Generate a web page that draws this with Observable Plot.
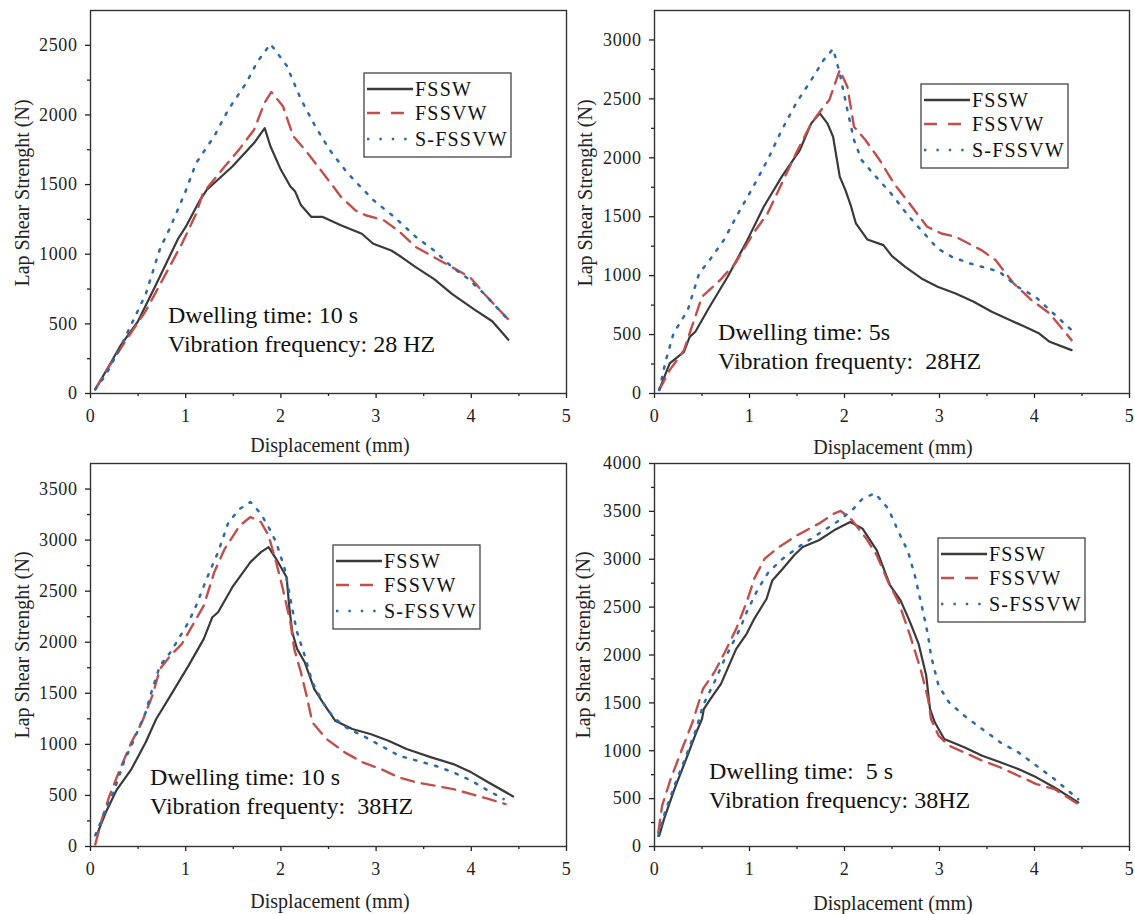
<!DOCTYPE html>
<html><head><meta charset="utf-8">
<script src="https://cdn.jsdelivr.net/npm/d3@7"></script>
<script src="https://cdn.jsdelivr.net/npm/@observablehq/plot@0.6"></script>
<style>
body{margin:0;background:#fff;}
#root{position:relative;width:1135px;height:914px;overflow:hidden;background:#fff;font-family:"Liberation Serif","Times New Roman",serif;}
.panel{position:absolute;}
.panel svg{overflow:visible;}
.panel svg text{letter-spacing:0.6px;}
#overlay{position:absolute;left:0;top:0;pointer-events:none;}
#overlay text{font-family:"Liberation Serif","Times New Roman",serif;}
</style></head><body><div id="root"></div>
<script>
// ---------- data ----------
const seriesNames = ["FSSW", "FSSVW", "S-FSSVW"];
const xTicks = [0, 1, 2, 3, 4, 5];
const xMinor = [0.5, 1.5, 2.5, 3.5, 4.5];
const yTicksA = [0, 500, 1000, 1500, 2000, 2500];
const yTicksB = [0, 500, 1000, 1500, 2000, 2500, 3000];
const yTicksC = [0, 500, 1000, 1500, 2000, 2500, 3000, 3500];
const yTicksD = [0, 500, 1000, 1500, 2000, 2500, 3000, 3500, 4000];
const xLabel = "Displacement (mm)";
const yLabel = "Lap Shear Strenght (N)";
const notesA = ["Dwelling time: 10 s", "Vibration frequency: 28 HZ"];
const notesB = ["Dwelling time: 5s", "Vibration frequenty:  28HZ"];
const notesC = ["Dwelling time: 10 s", "Vibration frequenty:  38HZ"];
const notesD = ["Dwelling time:  5 s", "Vibration frequency: 38HZ"];

// Panel A: 10 s, 28 Hz
const a_FSSW = [[0.05,30],[0.2,205],[0.31,338],[0.5,520],[0.69,785],[0.92,1111],[1.0,1196],[1.15,1389],[1.22,1461],[1.49,1630],[1.72,1800],[1.83,1905],[1.89,1775],[2.0,1606],[2.1,1486],[2.15,1450],[2.21,1353],[2.32,1268],[2.44,1268],[2.63,1208],[2.85,1147],[2.97,1075],[3.16,1027],[3.27,978],[3.42,906],[3.61,821],[3.8,713],[4.03,604],[4.22,519],[4.39,386]];
const a_FSSVW = [[0.05,30],[0.16,157],[0.39,400],[0.58,592],[0.77,833],[0.96,1075],[1.11,1292],[1.18,1437],[1.41,1630],[1.56,1751],[1.72,1896],[1.83,2090],[1.9,2165],[2.02,2065],[2.13,1848],[2.28,1727],[2.47,1558],[2.63,1413],[2.78,1316],[2.89,1280],[3.08,1244],[3.23,1171],[3.42,1051],[3.61,978],[3.8,906],[3.99,833],[4.14,713],[4.39,531]];
const a_SFSSVW = [[0.05,30],[0.16,133],[0.31,326],[0.58,713],[0.73,1039],[0.84,1196],[0.99,1437],[1.11,1655],[1.3,1848],[1.45,2041],[1.64,2234],[1.75,2379],[1.89,2510],[2.06,2355],[2.21,2113],[2.36,1920],[2.51,1751],[2.7,1582],[2.97,1389],[3.19,1268],[3.42,1123],[3.61,1027],[3.8,906],[3.95,833],[4.14,713],[4.37,543]];

// Panel B: 5 s, 28 Hz
const b_FSSW = [[0.05,30],[0.16,255],[0.31,354],[0.37,481],[0.43,524],[0.58,736],[0.77,991],[0.96,1274],[1.15,1585],[1.34,1840],[1.53,2066],[1.65,2292],[1.74,2377],[1.82,2292],[1.88,2179],[1.95,1840],[2.01,1726],[2.07,1585],[2.12,1443],[2.24,1307],[2.41,1259],[2.5,1166],[2.64,1075],[2.81,976],[2.98,906],[3.17,849],[3.36,778],[3.55,693],[3.74,623],[3.9,566],[4.05,509],[4.16,439],[4.39,368]];
const b_FSSVW = [[0.05,30],[0.16,198],[0.31,368],[0.5,821],[0.69,962],[0.85,1104],[1.04,1358],[1.19,1528],[1.34,1783],[1.49,2038],[1.65,2292],[1.74,2391],[1.84,2490],[1.95,2745],[2.03,2604],[2.1,2264],[2.22,2151],[2.37,1981],[2.52,1783],[2.71,1585],[2.87,1415],[3.02,1358],[3.17,1330],[3.44,1217],[3.59,1132],[3.78,934],[3.97,792],[4.16,679],[4.39,453]];
const b_SFSSVW = [[0.05,30],[0.12,283],[0.2,509],[0.35,708],[0.47,1019],[0.58,1132],[0.73,1302],[0.88,1528],[1.04,1755],[1.19,1981],[1.34,2236],[1.49,2462],[1.65,2660],[1.78,2830],[1.88,2925],[1.95,2717],[2.03,2406],[2.1,2151],[2.18,1981],[2.33,1840],[2.49,1698],[2.68,1500],[2.87,1330],[2.98,1231],[3.13,1160],[3.32,1104],[3.51,1061],[3.63,1033],[3.82,906],[4.01,821],[4.16,708],[4.39,538]];

// Panel C: 10 s, 38 Hz
const c_FSSW = [[0.07,121],[0.16,333],[0.27,546],[0.43,758],[0.58,1020],[0.69,1248],[0.84,1477],[1.03,1771],[1.19,2033],[1.28,2245],[1.34,2294],[1.49,2539],[1.68,2784],[1.79,2882],[1.87,2931],[1.95,2817],[2.06,2637],[2.09,2327],[2.12,2098],[2.17,1935],[2.25,1804],[2.35,1543],[2.44,1412],[2.57,1232],[2.75,1150],[2.94,1101],[3.13,1036],[3.32,954],[3.58,873],[3.81,807],[4.0,726],[4.15,644],[4.44,490]];
const c_FSSVW = [[0.05,20],[0.12,268],[0.2,497],[0.31,758],[0.43,1020],[0.54,1216],[0.65,1477],[0.73,1739],[0.84,1869],[0.96,1984],[1.07,2163],[1.19,2359],[1.3,2686],[1.41,2915],[1.57,3144],[1.68,3226],[1.79,3177],[1.87,3046],[1.95,2784],[2.02,2523],[2.1,2196],[2.14,1935],[2.21,1706],[2.27,1477],[2.33,1216],[2.48,1052],[2.67,922],[2.86,824],[3.05,758],[3.24,676],[3.43,627],[3.62,595],[3.81,562],[4.0,513],[4.19,464],[4.36,415]];
const c_SFSSVW = [[0.05,110],[0.12,268],[0.24,529],[0.35,824],[0.46,1052],[0.58,1314],[0.65,1543],[0.73,1771],[0.84,1902],[1.03,2196],[1.11,2359],[1.22,2621],[1.34,2882],[1.45,3177],[1.57,3307],[1.68,3373],[1.79,3258],[1.87,3128],[1.95,2980],[2.04,2719],[2.1,2425],[2.14,2229],[2.17,2098],[2.25,1869],[2.33,1608],[2.44,1412],[2.55,1265],[2.71,1150],[2.86,1085],[3.05,987],[3.24,889],[3.43,840],[3.62,791],[3.81,726],[4.0,644],[4.15,562],[4.34,464]];

// Panel D: 5 s, 38 Hz
const d_FSSW = [[0.05,112],[0.1,286],[0.21,600],[0.32,879],[0.44,1193],[0.5,1332],[0.52,1437],[0.59,1541],[0.7,1698],[0.86,2064],[0.97,2221],[1.05,2378],[1.18,2587],[1.24,2779],[1.35,2901],[1.47,3041],[1.56,3128],[1.73,3198],[1.89,3302],[2.06,3389],[2.19,3320],[2.34,3093],[2.48,2727],[2.59,2570],[2.69,2343],[2.78,2117],[2.86,1785],[2.9,1437],[2.95,1297],[3.05,1123],[3.26,1036],[3.45,948],[3.64,879],[3.83,809],[4.02,722],[4.21,617],[4.46,460]];
const d_FSSVW = [[0.04,146],[0.08,425],[0.17,704],[0.29,1018],[0.4,1297],[0.51,1646],[0.63,1820],[0.74,2029],[0.86,2273],[0.97,2552],[1.05,2797],[1.16,3006],[1.31,3128],[1.5,3250],[1.73,3372],[1.89,3477],[1.96,3505],[2.08,3407],[2.23,3215],[2.34,3041],[2.46,2762],[2.57,2552],[2.69,2204],[2.8,1855],[2.88,1541],[2.91,1332],[2.99,1158],[3.1,1053],[3.26,983],[3.45,896],[3.64,826],[3.83,739],[4.02,652],[4.21,600],[4.46,443]];
const d_SFSSVW = [[0.04,112],[0.11,356],[0.21,635],[0.32,914],[0.44,1227],[0.51,1472],[0.63,1716],[0.74,1960],[0.9,2273],[0.97,2448],[1.09,2692],[1.2,2866],[1.35,3006],[1.54,3145],[1.73,3267],[1.92,3389],[2.08,3511],[2.19,3633],[2.32,3690],[2.46,3529],[2.57,3285],[2.67,3076],[2.74,2831],[2.82,2483],[2.88,2204],[2.91,1995],[2.99,1681],[3.1,1506],[3.26,1367],[3.45,1227],[3.64,1088],[3.83,983],[4.02,844],[4.21,704],[4.46,495]];

// ---------- styles ----------
const seriesStyle = {
  "FSSW":    {stroke: "#3a3a3a", strokeWidth: 2.2, dash: null, legendDash: null},
  "FSSVW":   {stroke: "#c0504d", strokeWidth: 2.4, dash: "13,8", legendDash: "13,11"},
  "S-FSSVW": {stroke: "#2e6aa6", strokeWidth: 2.5, dash: "2.4,8.5", legendDash: "2.4,10"}
};

const panels = [
  {left: 0,   top: 0,   w: 568, h: 457, ml: 90, mr: 2,  mt: 10, mb: 64, ymax: 2750, yTicks: yTicksA,
   series: [a_FSSW, a_FSSVW, a_SFSSVW], notes: notesA, noteX: 168, noteY: 323,
   legend: {x: 364, y: 73}, xLabelX: 330, xLabelY: 452, yLabelX: 22, yLabelY: 193},
  {left: 565, top: 0,   w: 566, h: 457, ml: 89, mr: 2,  mt: 10, mb: 64, ymax: 3250, yTicks: yTicksB,
   series: [b_FSSW, b_FSSVW, b_SFSSVW], notes: notesB, noteX: 718, noteY: 340,
   legend: {x: 921, y: 84}, xLabelX: 893, xLabelY: 454, yLabelX: 585, yLabelY: 193},
  {left: 0,   top: 457, w: 568, h: 453, ml: 90, mr: 2,  mt: 6,  mb: 64, ymax: 3750, yTicks: yTicksC,
   series: [c_FSSW, c_FSSVW, c_SFSSVW], notes: notesC, noteX: 150, noteY: 785,
   legend: {x: 333, y: 545}, xLabelX: 330, xLabelY: 908, yLabelX: 22, yLabelY: 645},
  {left: 565, top: 457, w: 566, h: 453, ml: 89, mr: 2,  mt: 6,  mb: 64, ymax: 4000, yTicks: yTicksD,
   series: [d_FSSW, d_FSSVW, d_SFSSVW], notes: notesD, noteX: 709, noteY: 779,
   legend: {x: 938, y: 538}, xLabelX: 893, xLabelY: 910, yLabelX: 583, yLabelY: 645}
];

const FONT = '"Liberation Serif", "Times New Roman", serif';
const root = document.getElementById("root");

for (const p of panels) {
  const yMinor = d3.range(250, p.ymax, 500);
  const marks = [
    Plot.axisX({ticks: xTicks, tickSize: 5, tickPadding: 11, fontSize: 18, label: null, tickFormat: d => String(d), strokeWidth: 1.3}),
    Plot.axisX({ticks: xMinor, tickSize: 3, label: null, tickFormat: () => "", strokeWidth: 1.3}),
    Plot.axisY({ticks: p.yTicks, tickSize: 5, tickPadding: 8, fontSize: 18, label: null, tickFormat: d => String(d), strokeWidth: 1.3}),
    Plot.axisY({ticks: yMinor, tickSize: 3, label: null, tickFormat: () => "", strokeWidth: 1.3}),
  ];
  p.series.forEach((data, i) => {
    const s = seriesStyle[seriesNames[i]];
    marks.push(Plot.line(data, {x: d => d[0], y: d => d[1], stroke: s.stroke, strokeWidth: s.strokeWidth,
      strokeDasharray: s.dash, strokeLinejoin: "round"}));
  });
  marks.push(Plot.frame({stroke: "#333", strokeWidth: 1.4}));
  const chart = Plot.plot({
    width: p.w, height: p.h,
    marginLeft: p.ml, marginRight: p.mr, marginTop: p.mt, marginBottom: p.mb,
    x: {domain: [0, 5]},
    y: {domain: [0, p.ymax]},
    style: {fontFamily: FONT, color: "#222", background: "transparent", overflow: "visible"},
    marks
  });
  const div = document.createElement("div");
  div.className = "panel";
  div.style.left = p.left + "px";
  div.style.top = p.top + "px";
  div.appendChild(chart);
  root.appendChild(div);
}

// ---------- overlay: legends, notes, axis titles ----------
const ov = d3.select(root).append("svg").attr("id", "overlay").attr("width", 1135).attr("height", 914)
  .attr("font-family", FONT);

for (const p of panels) {
  ov.append("text").attr("x", p.xLabelX).attr("y", p.xLabelY).attr("text-anchor", "middle")
    .attr("font-family", FONT).attr("font-size", 20).attr("fill", "#222").text(xLabel);
  ov.append("text").attr("transform", `translate(${p.yLabelX},${p.yLabelY}) rotate(-90)`)
    .attr("text-anchor", "middle").attr("dominant-baseline", "central")
    .attr("font-family", FONT).attr("font-size", 20).attr("fill", "#222").text(yLabel);
  p.notes.forEach((t, i) => {
    ov.append("text").attr("x", p.noteX).attr("y", p.noteY + i * 29).attr("font-size", 24)
      .attr("font-family", FONT).attr("fill", "#111").style("white-space", "pre").text(t);
  });
  const g = ov.append("g").attr("transform", `translate(${p.legend.x},${p.legend.y})`);
  g.append("rect").attr("width", 147).attr("height", 84).attr("fill", "#fff").attr("stroke", "#444").attr("stroke-width", 1.3);
  const offs = [16, 40, 66];
  seriesNames.forEach((n, i) => {
    const s = seriesStyle[n];
    g.append("line").attr("x1", 3).attr("x2", 49).attr("y1", offs[i]).attr("y2", offs[i])
      .attr("stroke", s.stroke).attr("stroke-width", s.strokeWidth + 0.2)
      .attr("stroke-dasharray", s.legendDash);
    g.append("text").attr("x", 51).attr("y", offs[i]).attr("dy", "0.34em").attr("font-size", 20)
      .attr("font-family", FONT).attr("letter-spacing", 1.2).attr("fill", "#111").text(n);
  });
}
</script></body></html>
